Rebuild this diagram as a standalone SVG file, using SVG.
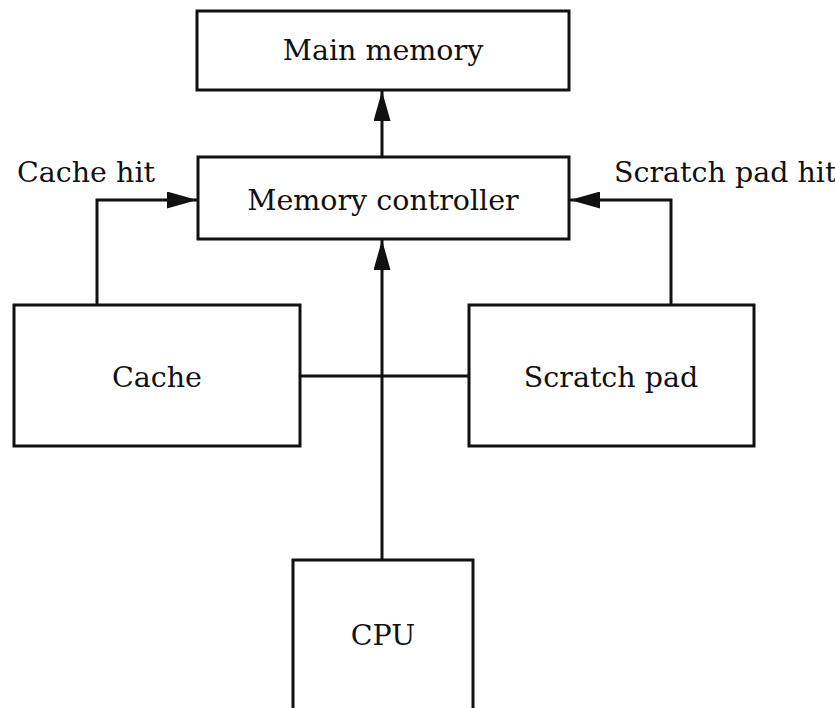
<svg xmlns="http://www.w3.org/2000/svg" width="835" height="708" viewBox="0 0 835 708">
  <style>
    .box { fill: #ffffff; stroke: #111111; stroke-width: 3; }
    .wire { fill: none; stroke: #111111; stroke-width: 3; }
    .lbl { font-family: "DejaVu Serif", "Liberation Serif", serif; font-size: 28.5px; fill: #111111; }
    .mid { text-anchor: middle; }
  </style>
  <defs>
    <marker id="head" viewBox="0 0 30 17" refX="30" refY="8.5" markerWidth="30" markerHeight="17" markerUnits="userSpaceOnUse" orient="auto">
      <path d="M0,0 L30,8.5 L0,17 Z" fill="#111111"/>
    </marker>
  </defs>
  <rect width="835" height="708" fill="#ffffff"/>

  <g id="connectors">
    <line class="wire" x1="382" y1="157" x2="382" y2="91" marker-end="url(#head)"/>
    <polyline class="wire" points="97,305 97,200 197,200" marker-end="url(#head)"/>
    <polyline class="wire" points="671,305 671,200 570,200" marker-end="url(#head)"/>
    <line class="wire" x1="382" y1="560" x2="382" y2="240" marker-end="url(#head)"/>
    <line class="wire" x1="300" y1="376" x2="469" y2="376"/>
  </g>

  <g id="main-memory">
    <rect class="box" x="197" y="11" width="372" height="79"/>
    <text class="lbl mid" x="383" y="60">Main memory</text>
  </g>

  <g id="memory-controller">
    <rect class="box" x="198" y="157" width="371" height="82"/>
    <text class="lbl mid" x="383" y="210">Memory controller</text>
  </g>

  <g id="cache">
    <rect class="box" x="14" y="305" width="286" height="141"/>
    <text class="lbl mid" x="157" y="387">Cache</text>
  </g>

  <g id="scratch-pad">
    <rect class="box" x="469" y="305" width="285" height="141"/>
    <text class="lbl mid" x="611" y="387">Scratch pad</text>
  </g>

  <g id="cpu">
    <path class="wire" d="M293,712 L293,560 L473,560 L473,712"/>
    <text class="lbl mid" x="383" y="645">CPU</text>
  </g>

  <g id="labels">
    <text class="lbl" x="17" y="182">Cache hit</text>
    <text class="lbl" x="614" y="182">Scratch pad hit</text>
  </g>
</svg>
